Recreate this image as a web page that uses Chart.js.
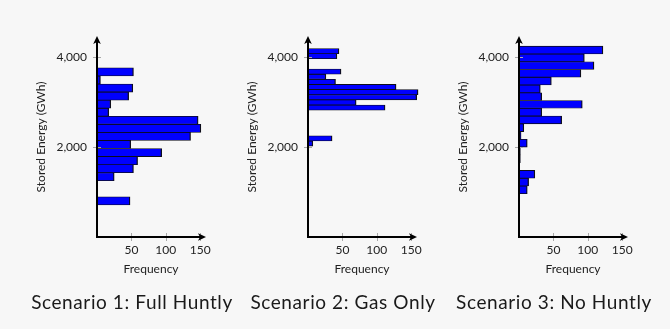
<!DOCTYPE html>
<html>
<head>
<meta charset="utf-8">
<script src="https://cdn.jsdelivr.net/npm/chart.js@4.4.1/dist/chart.umd.min.js"></script>
<style>
  html, body { margin: 0; padding: 0; background: #f7f7f7; }
  #wrap { position: relative; width: 670px; height: 329px; overflow: hidden; background: #f7f7f7; }
  .panel { position: absolute; top: 0; width: 240px; height: 329px; }
  .caption {
    position: absolute; top: 291px; height: 22px; line-height: 22px;
    transform: translateX(-50%); white-space: nowrap;
    font-family: Lato, "DejaVu Sans", sans-serif; font-size: 19px; letter-spacing: 0.6px; color: #1a1a1a;
  }
</style>
</head>
<body>
<div id="wrap">
  <div class="panel" style="left:0px"><canvas id="c1" width="240" height="329"></canvas></div>
  <div class="panel" style="left:211px"><canvas id="c2" width="240" height="329"></canvas></div>
  <div class="panel" style="left:422px"><canvas id="c3" width="240" height="329"></canvas></div>
  <div class="caption" style="left:132px">Scenario 1: Full Huntly</div>
  <div class="caption" style="left:343px">Scenario 2: Gas Only</div>
  <div class="caption" style="left:554px">Scenario 3: No Huntly</div>
</div>
<script>
// Histogram bin midpoints (GWh) and frequency counts for each scenario
const fullHuntlyBins   = [801.5, 980.5, 1159.5, 1338.5, 1517.5, 1696.5, 1875.5, 2054.5, 2233.5, 2412.5, 2591.5, 2770.5, 2949.5, 3128.5, 3307.5, 3486.5, 3665.5];
const fullHuntlyCounts = [48, 0, 0, 25, 53, 59, 94, 49, 136, 151, 147, 17, 20, 46, 52, 5, 53];

const gasOnlyBins   = [2076, 2190, 2304, 2418, 2532, 2646, 2760, 2874, 2988, 3102, 3216, 3330, 3444, 3558, 3672, 3786, 3900, 4014, 4128];
const gasOnlyCounts = [7, 35, 0, 0, 0, 0, 0, 112, 70, 158, 160, 128, 40, 26, 48, 0, 0, 42, 45];

const noHuntlyBins   = [1048, 1220, 1392, 1565, 1737, 1909, 2082, 2254, 2427, 2599, 2771, 2944, 3116, 3288, 3460, 3633, 3805, 3978, 4150];
const noHuntlyCounts = [12, 14, 23, 0, 2, 2, 12, 3, 7, 62, 33, 92, 33, 31, 47, 90, 109, 95, 122];

// Axis ticks
const energyTicks = [2000, 4000];
const frequencyTicks = [50, 100, 150];

const Y_MAX = 4440;
const X_MAX = 157;

Chart.defaults.font.family = 'Lato, "DejaVu Sans", sans-serif';
Chart.defaults.color = '#222';

// Axis lines with arrow heads and centred tick marks
const arrowAxes = {
  id: 'arrowAxes',
  afterDatasetsDraw(chart) {
    const { ctx, chartArea: a, scales: { x, y } } = chart;
    ctx.save();
    ctx.strokeStyle = '#a8a8a8';
    ctx.lineWidth = 1;
    y.ticks.forEach(t => {
      const py = Math.round(y.getPixelForValue(t.value)) + 0.5;
      ctx.beginPath(); ctx.moveTo(a.left - 4, py); ctx.lineTo(a.left + 4, py); ctx.stroke();
    });
    x.ticks.forEach(t => {
      const px = Math.round(x.getPixelForValue(t.value)) + 0.5;
      ctx.beginPath(); ctx.moveTo(px, a.bottom - 4); ctx.lineTo(px, a.bottom + 4); ctx.stroke();
    });

    ctx.strokeStyle = '#000';
    ctx.fillStyle = '#000';
    ctx.lineWidth = 2;
    ctx.beginPath();
    ctx.moveTo(a.left, a.top + 4);
    ctx.lineTo(a.left, a.bottom);
    ctx.lineTo(a.right - 4, a.bottom);
    ctx.stroke();

    // vertical arrow head
    ctx.beginPath();
    ctx.moveTo(a.left, a.top - 1);
    ctx.lineTo(a.left - 3.8, a.top + 7);
    ctx.lineTo(a.left, a.top + 5);
    ctx.lineTo(a.left + 3.8, a.top + 7);
    ctx.closePath();
    ctx.fill();

    // horizontal arrow head
    ctx.beginPath();
    ctx.moveTo(a.right + 1, a.bottom);
    ctx.lineTo(a.right - 7, a.bottom - 3.8);
    ctx.lineTo(a.right - 5, a.bottom);
    ctx.lineTo(a.right - 7, a.bottom + 3.8);
    ctx.closePath();
    ctx.fill();
    ctx.restore();
  }
};

function makeHistogram(canvasId, bins, counts) {
  const points = bins
    .map((b, i) => ({ x: counts[i], y: b }))
    .filter(p => p.x > 0);

  return new Chart(document.getElementById(canvasId), {
    type: 'bar',
    data: {
      datasets: [{
        data: points,
        backgroundColor: '#0000ff',
        borderColor: '#0d0d1a',
        borderWidth: { top: 0.8, bottom: 0.8, right: 1.3, left: 0 },
        borderSkipped: false,
        barPercentage: 1,
        categoryPercentage: 1,
        clip: false
      }]
    },
    options: {
      indexAxis: 'y',
      responsive: false,
      animation: false,
      events: [],
      layout: { padding: { left: 34, right: 35, top: 37, bottom: 42 } },
      plugins: { legend: { display: false }, tooltip: { enabled: false }, title: { display: false } },
      scales: {
        y: {
          type: 'linear',
          position: 'left',
          offset: false,
          min: 0,
          max: Y_MAX,
          grid: { display: false, drawTicks: false, offset: false },
          border: { display: false },
          afterBuildTicks: s => { s.ticks = energyTicks.map(v => ({ value: v })); },
          afterFit: s => { s.width = 63; },
          ticks: {
            padding: 10,
            font: { size: 12 },
            color: '#222',
            callback: v => v.toLocaleString('en-US')
          },
          title: {
            display: true,
            text: 'Stored Energy (GWh)',
            font: { size: 12 },
            color: '#222',
            padding: { top: 0, bottom: 0 }
          }
        },
        x: {
          type: 'linear',
          position: 'bottom',
          offset: false,
          min: 0,
          max: X_MAX,
          grid: { display: false, drawTicks: false },
          border: { display: false },
          afterBuildTicks: s => { s.ticks = frequencyTicks.map(v => ({ value: v })); },
          afterFit: s => { s.height = 50; },
          ticks: { padding: 6, font: { size: 12 }, color: '#222' },
          title: {
            display: true,
            text: 'Frequency',
            font: { size: 12 },
            color: '#222',
            padding: { top: 0, bottom: 11 }
          }
        }
      }
    },
    plugins: [arrowAxes]
  });
}

makeHistogram('c1', fullHuntlyBins, fullHuntlyCounts);
makeHistogram('c2', gasOnlyBins, gasOnlyCounts);
makeHistogram('c3', noHuntlyBins, noHuntlyCounts);
</script>
</body>
</html>
